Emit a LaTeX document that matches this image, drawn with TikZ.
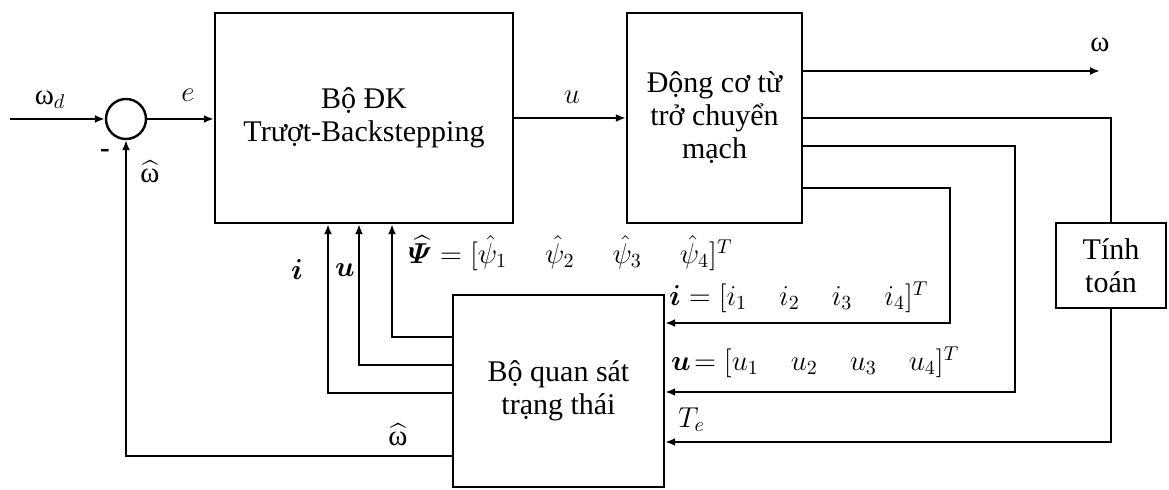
\documentclass[tikz,border=0pt]{standalone}
\usepackage{amsmath}
\usepackage{bm}
\usepackage{fontspec}
\setmainfont{Liberation Serif}
\newfontfamily\vnfont{Liberation Serif}
\usetikzlibrary{positioning,shapes,arrows.meta}

\newcommand{\vgap}{\hspace{16pt}}
\newcommand{\omhat}{\widehat{\mbox{\vnfont ω}}}

\begin{document}
\begin{tikzpicture}[x=0.5pt, y=-0.5pt, line width=1.2pt, >={Latex[length=5pt,width=4pt]},
    blk/.style={rectangle, draw=black, inner sep=0pt, align=center, font=\vnfont\fontsize{15}{16.5}\selectfont},
    lbl/.style={inner sep=1pt, font=\vnfont\fontsize{14.5}{16.5}\selectfont}]
    %  \draw[help lines] (0,0) grid (1169,490);
      \useasboundingbox (0,0) rectangle (1169,490);

      \node [circle, draw=black, minimum size=20pt, inner sep=0pt] (sum) at (126,119) {};
      \node [blk, minimum width=149pt, minimum height=105pt] (ctrl) at (364,118) {Bộ ĐK\\Trượt-Backstepping};
      \node [blk, minimum width=87.5pt, minimum height=105pt] (motor) at (714.5,118) {Động cơ từ\\trở chuyển\\mạch};
      \node [blk, minimum width=55pt, minimum height=42.5pt] (calc) at (1111,265.5) {Tính\\toán};
      \node [blk, minimum width=105.5pt, minimum height=96pt] (obs) at (558.5,391) {Bộ quan sát\\trạng thái};

      \coordinate (wdin) at (10,119);
      \coordinate (wout) at (1100,71);

      \draw[->] (wdin) -- (sum.west);
      \draw[->] (sum.east) -- (sum.east -| ctrl.west);
      \draw[->] (ctrl.east) -- (motor.west);
      \draw[->] (motor.east |- wout) -- (wout);
      \draw[-] (motor.east |- 0,118) -| (calc.north);
      \draw[->] (motor.east |- 0,188) -| (950,323) -- (obs.east |- 0,323);
      \draw[->] (motor.east |- 0,146) -| (1015,392) -- (obs.east |- 0,392);
      \draw[->] (calc.south) |- (obs.east |- 0,442);

      \draw[->] (obs.west |- 0,337) -| (ctrl.south -| 392,0);
      \draw[->] (obs.west |- 0,365) -| (ctrl.south -| 359,0);
      \draw[->] (obs.west |- 0,393) -| (ctrl.south -| 328,0);
      \draw[->] (obs.west |- 0,456) -| (sum.south);

      \node [lbl] (wdlbl) at (50,100) {ω$_d$};
      \node [lbl] (elbl) at (188,95) {$e$};
      \node [lbl] (minus) at (105,153) {\textbf{-}};
      \node [lbl] (whlbl) at (150,172) {$\omhat$};
      \node [lbl] (ulbl) at (572,97) {$u$};
      \node [lbl] (wlbl) at (1100,45) {ω};
      \node [lbl] (ilbl) at (297,270) {$\bm{i}$};
      \node [lbl] (uilbl) at (345,270) {$\bm{u}$};
      \node [lbl, anchor=west] (psilbl) at (405,253) {$\widehat{\bm{\varPsi}} = [\hat{\psi}_1 \hspace{19pt} \hat{\psi}_2 \hspace{19pt} \hat{\psi}_3 \hspace{19pt} \hat{\psi}_4]^T$};
      \node [lbl, anchor=west] (ivec) at (666,297) {$\bm{i} = [i_1 \vgap i_2 \vgap i_3 \vgap i_4]^T$};
      \node [lbl, anchor=west] (uvec) at (668,362) {$\bm{u}\!= [u_1 \vgap u_2 \vgap u_3 \vgap u_4]^T$};
      \node [lbl, anchor=west] (telbl) at (675,420) {$T_e$};
      \node [lbl] (whlbl2) at (398,435) {$\omhat$};

    \end{tikzpicture}
\end{document}
